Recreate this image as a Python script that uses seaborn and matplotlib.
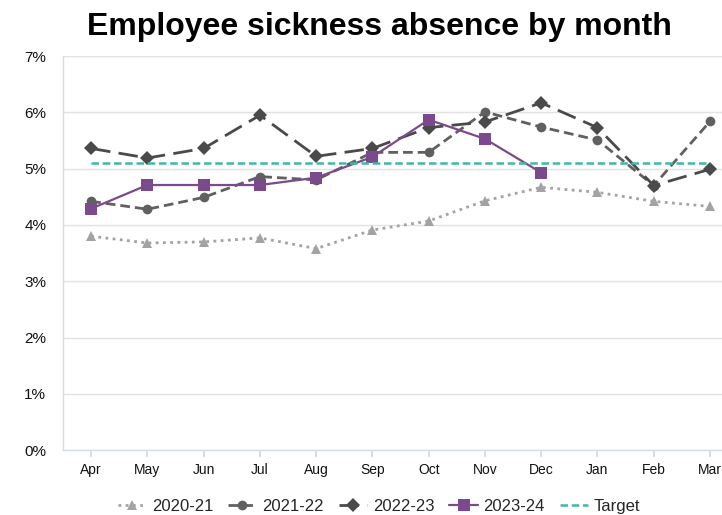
import matplotlib
matplotlib.use("Agg")
import matplotlib.pyplot as plt
import seaborn as sns
import pandas as pd
from matplotlib.ticker import FuncFormatter

months = ["Apr", "May", "Jun", "Jul", "Aug", "Sep", "Oct", "Nov", "Dec", "Jan", "Feb", "Mar"]
y2020_21 = [3.80, 3.68, 3.70, 3.77, 3.58, 3.91, 4.07, 4.43, 4.67, 4.58, 4.42, 4.33]
y2021_22 = [4.42, 4.28, 4.49, 4.86, 4.80, 5.29, 5.29, 6.01, 5.74, 5.51, 4.70, 5.84]
y2022_23 = [5.36, 5.19, 5.36, 5.95, 5.22, 5.36, 5.73, 5.83, 6.17, 5.73, 4.70, 4.99]
y2023_24 = [4.29, 4.71, 4.71, 4.71, 4.84, 5.21, 5.87, 5.53, 4.93]
target = [5.1] * 12

sns.set_theme(style="white")
plt.rcParams['font.family'] = ['Liberation Sans', 'DejaVu Sans']

fig = plt.figure(figsize=(7.22, 5.15), dpi=100)
ax = fig.add_axes([0.0873, 0.126, 0.935, 0.765])

styles = [
    ("2020-21", y2020_21, dict(color="#a3a3a3", linestyle=(0, (1, 1.6)), marker="^", markersize=7, linewidth=2)),
    ("2021-22", y2021_22, dict(color="#606060", linestyle=(0, (3.5, 1.8)), marker="o", markersize=7, linewidth=2)),
    ("2022-23", y2022_23, dict(color="#4a4a4a", linestyle=(0, (7, 3)), marker="D", markersize=7.5, linewidth=2)),
    ("2023-24", y2023_24, dict(color="#7b4a8c", linestyle="-", marker="s", markersize=9, linewidth=1.6)),
    ("Target", target, dict(color="#3fb8a6", linestyle=(0, (3, 1.5)), marker=None, linewidth=1.8)),
]

for label, vals, kw in styles:
    df = pd.DataFrame({"month": months[:len(vals)], "value": vals})
    sns.lineplot(data=df, x="month", y="value", ax=ax, sort=False, label=label,
                 markeredgewidth=0, **kw)

ax.set_xlim(-0.5, 11.5)
ax.set_ylim(0, 7)
ax.set_yticks(range(0, 8))
ax.yaxis.set_major_formatter(FuncFormatter(lambda v, p: f"{int(v)}%"))
ax.set_xticks(range(12))
ax.set_xticklabels(months)
ax.set_xlabel("")
ax.set_ylabel("")
ax.grid(axis="y", color="#e2e2e2", linewidth=1)
ax.grid(axis="x", visible=False)
for s in ["top", "right"]:
    ax.spines[s].set_visible(False)
for s in ["left", "bottom"]:
    ax.spines[s].set_color("#d3dbe8")
    ax.spines[s].set_linewidth(1)
ax.tick_params(axis="x", length=5, color="#d3dbe8", labelsize=10, pad=4, bottom=True)
ax.tick_params(axis="y", length=0, labelsize=11, pad=12)
for t in ax.get_yticklabels():
    t.set_color("#111111")
for t in ax.get_xticklabels():
    t.set_color("#111111")

fig.suptitle("Employee sickness absence by month", x=0.525, y=0.977, fontsize=23,
             fontweight="bold", color="black")

handles, labels = ax.get_legend_handles_labels()
ax.legend_.remove()
fig.legend(handles, labels, loc="lower center", bbox_to_anchor=(0.525, -0.027), ncol=5,
           frameon=False, fontsize=12, handlelength=1.7, columnspacing=0.9, handletextpad=0.35)

fig.savefig("out.png", dpi=100)
